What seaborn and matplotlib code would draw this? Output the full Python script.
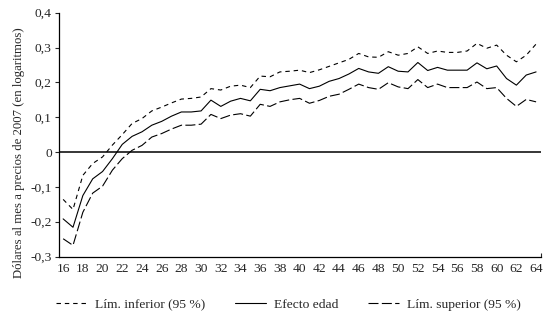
import pandas as pd
import matplotlib
matplotlib.use("Agg")
import matplotlib.pyplot as plt
import seaborn as sns
from matplotlib.ticker import FuncFormatter

# edades 16..64
edad = list(range(16, 65))

# linea central
efecto_edad = [-0.192, -0.216, -0.125, -0.077, -0.056, -0.019, 0.022, 0.045, 0.058, 0.077,
               0.088, 0.103, 0.115, 0.115, 0.118, 0.149, 0.131, 0.146, 0.154, 0.147,
               0.180, 0.176, 0.185, 0.190, 0.195, 0.182, 0.189, 0.203, 0.211, 0.224,
               0.240, 0.230, 0.226, 0.245, 0.232, 0.230, 0.257, 0.234, 0.243, 0.235,
               0.235, 0.235, 0.256, 0.239, 0.247, 0.211, 0.192, 0.221, 0.230]

# banda de guiones cortos (etiquetada "Lím. inferior" en el original)
lim_inferior = [-0.136, -0.165, -0.067, -0.033, -0.014, 0.020, 0.050, 0.082, 0.096, 0.118,
                0.129, 0.141, 0.152, 0.154, 0.158, 0.182, 0.178, 0.189, 0.192, 0.185,
                0.218, 0.216, 0.230, 0.232, 0.235, 0.228, 0.236, 0.246, 0.256, 0.266,
                0.283, 0.273, 0.272, 0.288, 0.278, 0.283, 0.302, 0.283, 0.290, 0.286,
                0.286, 0.290, 0.312, 0.298, 0.307, 0.278, 0.259, 0.278, 0.310]

# banda de guiones largos
lim_superior = [-0.249, -0.268, -0.173, -0.118, -0.098, -0.052, -0.019, 0.005, 0.019, 0.043,
                0.053, 0.066, 0.077, 0.077, 0.080, 0.108, 0.096, 0.106, 0.110, 0.103,
                0.137, 0.131, 0.144, 0.150, 0.154, 0.140, 0.148, 0.160, 0.166, 0.180,
                0.195, 0.185, 0.180, 0.199, 0.187, 0.182, 0.208, 0.185, 0.195, 0.185,
                0.185, 0.185, 0.201, 0.182, 0.185, 0.154, 0.131, 0.151, 0.144]

series = ["Lím. inferior (95 %)", "Efecto edad", "Lím. superior (95 %)"]
y_ticks = [-0.3, -0.2, -0.1, 0, 0.1, 0.2, 0.3, 0.4]
x_ticks = list(range(16, 65, 2))

df = pd.concat([
    pd.DataFrame({"edad": edad, "valor": lim_inferior, "serie": series[0]}),
    pd.DataFrame({"edad": edad, "valor": efecto_edad, "serie": series[1]}),
    pd.DataFrame({"edad": edad, "valor": lim_superior, "serie": series[2]}),
])

sns.set_style("white")
plt.rcParams["font.family"] = ["Liberation Serif", "DejaVu Serif"]
fs = 9.7

fig = plt.figure(figsize=(5.57, 3.24), dpi=100)
ax = fig.add_axes([0.1054, 0.2083, 0.8659, 0.7525])

sns.lineplot(data=df, x="edad", y="valor", style="serie", style_order=series,
             dashes={series[0]: (4, 3.5), series[1]: "", series[2]: (9, 3)},
             color="black", linewidth=0.8, ax=ax)

ax.axhline(0, color="black", linewidth=1.1)

ax.set_xlim(15.55, 64.5)
ax.set_ylim(-0.3, 0.4)
ax.set_xticks(x_ticks)
ax.set_yticks(y_ticks)
ax.yaxis.set_major_formatter(FuncFormatter(
    lambda v, p: "0" if abs(v) < 1e-9 else f"{v:.1f}".replace(".", ",")))
ax.tick_params(axis="x", length=0, labelsize=fs, pad=5)
ax.tick_params(axis="y", length=3, width=0.8, direction="out", left=True, labelsize=fs, pad=2)
ax.set_xticks([64.5], minor=True)
ax.tick_params(axis="x", which="minor", length=3, width=0.8, direction="in", bottom=True)

ax.set_xlabel("")
ax.set_ylabel("Dólares al mes a precios de 2007 (en logaritmos)", fontsize=9.2)
ax.yaxis.set_label_coords(-0.07, 0.427)

for s in ["top", "right"]:
    ax.spines[s].set_visible(False)
for s in ["left", "bottom"]:
    ax.spines[s].set_color("black")
    ax.spines[s].set_linewidth(0.9)

handles, labels = ax.get_legend_handles_labels()
ax.get_legend().remove()
fig.legend(handles, labels, loc="center", bbox_to_anchor=(0.518, 0.06), ncol=3,
           frameon=False, fontsize=fs, handlelength=2.3, columnspacing=2.2, handletextpad=0.6)

fig.savefig("out.png", dpi=100)
